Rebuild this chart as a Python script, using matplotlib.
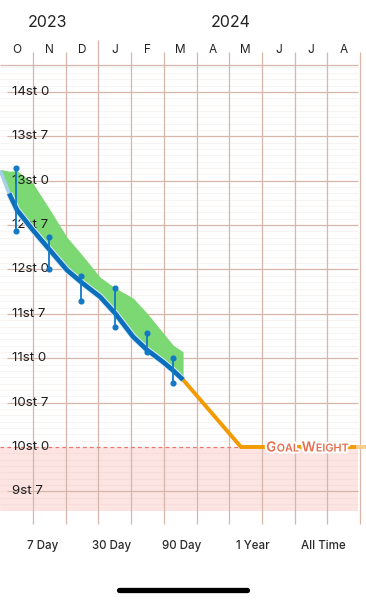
import matplotlib
matplotlib.use("Agg")
import matplotlib.pyplot as plt
import matplotlib.patheffects as pe
from matplotlib.lines import Line2D
from matplotlib.transforms import IdentityTransform

plt.rcParams['font.family'] = ['Inter', 'DejaVu Sans']

# 月 (2023年10月 = 0)
month_labels = ['O', 'N', 'D', 'J', 'F', 'M', 'A', 'M', 'J', 'J', 'A']
year_labels = ['2023', '2024']
year_pos = [1.45, 7.05]

# 体重 (lb)
stone_labels = ['14st 0', '13st 7', '13st 0', '12st 7', '12st 0',
                '11st 7', '11st 0', '10st 7', '10st 0', '9st 7']
stone_lbs = [196, 189, 182, 175, 168, 161, 154, 147, 140, 133]

# トレンド
trend_m = [0.0, 0.27, 0.51, 1.0, 1.46, 2.04, 2.5, 3.05, 3.51, 4.06, 4.49, 4.98, 5.28, 5.59]
trend_lb = [183.6, 180.0, 177.4, 174.2, 171.4, 167.9, 165.9, 163.7, 161.1, 157.4, 155.3, 153.4, 152.1, 150.6]
band_hi = [183.8, 183.5, 183.6, 181.6, 177.9, 173.1, 170.3, 166.8, 165.1, 163.5, 161.1, 158.0, 156.1, 155.0]

# 月ごとの範囲
range_m = [0.48, 1.49, 2.47, 3.51, 4.49, 5.28]
range_hi = [184.0, 173.1, 167.0, 165.1, 158.0, 154.0]
range_lo = [174.1, 168.1, 163.0, 158.9, 155.0, 150.1]

# 予測
proj_m = [5.59, 7.36, 10.94]
proj_lb = [150.6, 140.0, 140.0]
goal_lb = 140.0

periods = ['7 Day', '30 Day', '90 Day', '1 Year', 'All Time']
period_x = [43, 112, 182, 253, 323]

GRID = '#D6B6AA'
BLUE = '#0B6FBC'
ORANGE = '#F29A00'
GOAL = '#E56F50'


def draw_grid(ax):
    x_end = 10.94
    # 目標以下の領域
    ax.fill_between([-0.01, x_end], 130, goal_lb, color='#FBE4E1', lw=0, zorder=0)
    for lb in range(130, 201):
        c = '#F7DCD8' if lb < goal_lb else '#F6F1EF'
        ax.hlines(lb, -0.01, x_end, color=c, lw=0.6, zorder=1)
    for lb in stone_lbs:
        if lb == goal_lb:
            continue
        ax.hlines(lb, 0.2, x_end, color=GRID, lw=0.9, zorder=2)
    ax.hlines(200.3, -0.01, x_end, color=GRID, lw=0.9, zorder=2)
    for m in range(1, 12):
        top = 204.2 if m == 3 else 202.3
        ax.vlines(m, 127.9, top, color=GRID, lw=0.9, zorder=2)
    for i, lab in enumerate(month_labels):
        ax.text(i + 0.5, 202.6, lab, ha='center', va='center', fontsize=8.5, color='#222222')
    for lab, lb in zip(stone_labels, stone_lbs):
        ax.text(0.36, lb, lab, ha='left', va='center', fontsize=9.6, color='#1E1E1E', zorder=4.5)


def draw_goal_text(ax, fig):
    parts = [('G', 10), ('OAL ', 7.8), ('W', 10), ('EIGHT', 7.8)]
    r = fig.canvas.get_renderer()
    x, y = ax.transData.transform((8.13, goal_lb))
    y = y - 4.5
    stroke = [pe.withStroke(linewidth=3, foreground='white')]
    for s, size in parts:
        t = ax.text(x, y, s, transform=IdentityTransform(), ha='left', va='baseline',
                    fontsize=size, color=GOAL, fontweight='semibold', zorder=8,
                    path_effects=stroke)
        x += t.get_window_extent(r).width


def main():
    fig = plt.figure(figsize=(3.66, 6.0), dpi=100)
    ax = fig.add_axes([0, 73 / 600, 1, 487 / 600])
    ax.set_xlim(-0.00917, 11.183)
    ax.set_ylim(127.38, 204.2)
    ax.axis('off')

    draw_grid(ax)

    # 目標ライン
    ax.plot([0, proj_m[1]], [goal_lb, goal_lb], color='#E5786A', lw=0.9,
            dashes=(3, 2.5), zorder=3)
    ax.plot(proj_m, proj_lb, color=ORANGE, lw=2.8, solid_joinstyle='miter', zorder=5)
    ax.plot([proj_m[-1], 11.183], [goal_lb, goal_lb], color='#F8CF8A', lw=2.8, zorder=5)

    # 範囲バンド
    ax.fill_between(trend_m, trend_lb, band_hi, color='#7CD873', lw=0, zorder=4)

    # トレンド
    halo = [pe.withStroke(linewidth=4.8, foreground='#DDEEF8')]
    ax.plot(trend_m[:2], trend_lb[:2], color='#A5D0EA', lw=2.6, zorder=6,
            solid_capstyle='butt')
    ax.plot(trend_m[1:], trend_lb[1:], color=BLUE, lw=3.4, zorder=6,
            solid_capstyle='butt', path_effects=halo)

    ax.vlines(range_m, range_lo, range_hi, color='#1279C6', lw=1.3, zorder=7)
    ax.plot(range_m, range_hi, 'o', color='#1279C6', ms=3.4, zorder=7)
    ax.plot(range_m, range_lo, 'o', color='#1279C6', ms=3.4, zorder=7)

    draw_goal_text(ax, fig)

    # 年
    for lab, m in zip(year_labels, year_pos):
        ax.text(m, 206.9, lab, ha='center', va='center', fontsize=11.5,
                color='#222222', clip_on=False)

    # 期間ボタン
    for lab, px in zip(periods, period_x):
        fig.text(px / 366, 1 - 546 / 600, lab, ha='center', va='center',
                 fontsize=8.3, fontweight='medium', color='#2A2A2A')

    fig.add_artist(Line2D([119 / 366, 247 / 366], [1 - 590 / 600] * 2,
                          transform=fig.transFigure, color='black', lw=3.8,
                          solid_capstyle='round'))

    fig.savefig('out.png', dpi=100, facecolor='white')


if __name__ == "__main__":
    main()
